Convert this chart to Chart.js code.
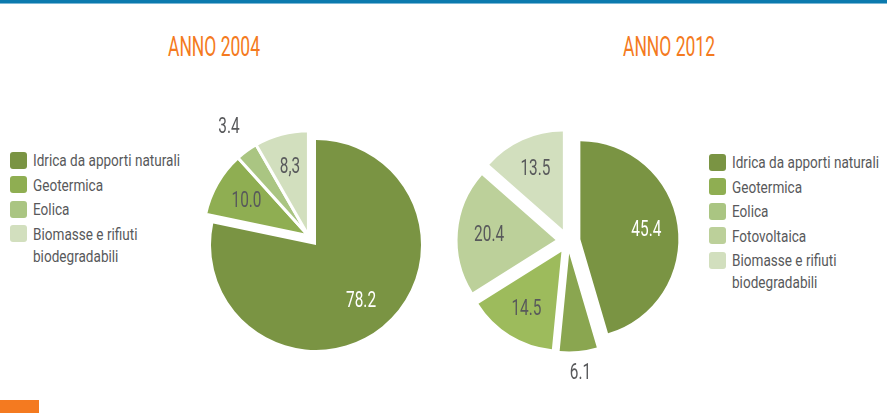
<!DOCTYPE html>
<html>
<head>
<meta charset="utf-8">
<script src="https://cdn.jsdelivr.net/npm/chart.js@4.4.1/dist/chart.umd.min.js"></script>
<style>
  html, body { margin:0; padding:0; background:#fff; }
  body { width:887px; height:413px; position:relative; overflow:hidden;
    font-family:Roboto,"DejaVu Sans Condensed",sans-serif; color:#58595b; }
  .topbar { position:absolute; left:0; top:0; width:887px; height:3px; background:#0b7aae; border-bottom:1px solid #7cb8d6; }
  .corner { position:absolute; left:0; top:400px; width:39px; height:13px; background:#f47a20; }
  .title { position:absolute; top:34px; width:200px; text-align:center; font-size:27px; line-height:26px;
    color:#f47a20; transform-origin:center; white-space:nowrap; }
  .legend { position:absolute; }
  .legend .item { display:flex; align-items:flex-start; margin-bottom:2.5px; }
  .legend .sw { width:17px; height:17px; border-radius:3px; margin-top:2.5px; margin-right:6px; flex:none; }
  .legend .tx { font-size:17px; line-height:22px; transform-origin:left top; }
  canvas { position:absolute; }
</style>
</head>
<body>
<div class="topbar"></div>
<div class="corner"></div>
<div class="title" id="t2004" style="left:114px;"></div>
<div class="title" id="t2012" style="left:569px;"></div>
<div class="legend" id="leg2004" style="left:10px; top:149px;"></div>
<div class="legend" id="leg2012" style="left:709px; top:151px;"></div>
<canvas id="pie2004" width="280" height="280" style="left:176px; top:105px;"></canvas>
<canvas id="pie2012" width="280" height="280" style="left:428px; top:101px;"></canvas>
<script>
// dati
const title2004 = 'ANNO 2004';
const title2012 = 'ANNO 2012';
const categories2004 = ['Idrica da apporti naturali','Geotermica','Eolica','Biomasse e rifiuti biodegradabili'];
const values2004 = [78.2, 10.0, 3.4, 8.3];
const valueText2004 = ['78.2','10.0','3.4','8,3'];
const colors2004 = ['#7a9443','#8fae52','#aac582','#d2dfbe'];
const legendColors2004 = ['#7a9443','#8fae52','#aac582','#d2dfbe'];

const categories2012 = ['Idrica da apporti naturali','Geotermica','Eolica','Fotovoltaica','Biomasse e rifiuti biodegradabili'];
const values2012 = [45.4, 6.1, 14.5, 20.4, 13.5];
const valueText2012 = ['45.4','6.1','14.5','20.4','13.5'];
const colors2012 = ['#7a9443','#8aa650','#9dbb5c','#bcd09a','#d2dfbe'];
const legendColors2012 = ['#7a9443','#8fae52','#aac582','#bcd09a','#d2dfbe'];

const FONT = 'Roboto,"DejaVu Sans Condensed",sans-serif';

// il carattere originale è un DIN condensato: stringo in orizzontale
const mctx = document.createElement('canvas').getContext('2d');
function textWidth(t, font){ mctx.font = font; return mctx.measureText(t).width; }
const titleScale = 92 / textWidth('ANNO 2004', '27px ' + FONT);
const legendScale = 147 / textWidth('Idrica da apporti naturali', '17px ' + FONT);
const labelScale = 30 / textWidth('78.2', '22px ' + FONT);

['t2004','t2012'].forEach((id,i)=>{
  const el = document.getElementById(id);
  el.textContent = i ? title2012 : title2004;
  el.style.transform = `scaleX(${titleScale})`;
});

function buildLegend(id, names, colors){
  document.getElementById(id).innerHTML = names.map((n,i)=>
    `<div class="item"><span class="sw" style="background:${colors[i]}"></span>` +
    `<span class="tx" style="width:${152/legendScale}px; transform:scaleX(${legendScale})">${n}</span></div>`).join('');
}
buildLegend('leg2004', categories2004, legendColors2004);
buildLegend('leg2012', categories2012, legendColors2012);

// spicchi esplosi: spostamento lungo la bisettrice (o del gruppo) senza allargare il raggio
const explode = {
  id:'explode',
  beforeDatasetsDraw(chart, args, opts){
    const arcs = chart.getDatasetMeta(0).data;
    const group = opts.group || [];
    let gMid = null;
    if(group.length){
      const s = Math.min(...group.map(i=>arcs[i].startAngle));
      const e = Math.max(...group.map(i=>arcs[i].endAngle));
      gMid = (s+e)/2;
    }
    arcs.forEach((arc,i)=>{
      const dist = (opts.distance||[])[i] || 0;
      const ang = group.includes(i) ? gMid : (arc.startAngle+arc.endAngle)/2;
      arc.shiftX = Math.cos(ang)*dist;
      arc.shiftY = Math.sin(ang)*dist;
      arc.draw = function(ctx){
        ctx.save();
        ctx.translate(this.shiftX, this.shiftY);
        Chart.ArcElement.prototype.draw.call(this, ctx);
        ctx.restore();
      };
    });
  },
  afterDatasetsDraw(chart, args, opts){
    const {ctx} = chart;
    const arcs = chart.getDatasetMeta(0).data;
    const vals = chart.data.datasets[0].data;
    arcs.forEach((arc,i)=>{
      const mid = (arc.startAngle+arc.endAngle)/2;
      const inside = vals[i] >= 7;
      const d = inside ? arc.outerRadius*0.68 : arc.outerRadius + opts.outside;
      const x = arc.x + (arc.shiftX||0) + Math.cos(mid)*d;
      const y = arc.y + (arc.shiftY||0) + Math.sin(mid)*d;
      ctx.save();
      ctx.translate(x, y);
      ctx.scale(labelScale, 1);
      ctx.font = '22px ' + FONT;
      ctx.textAlign = 'center';
      ctx.textBaseline = 'middle';
      ctx.fillStyle = i===0 ? '#ffffff' : '#58595b';
      ctx.fillText(opts.texts[i], 0, 1);
      ctx.restore();
    });
  }
};

function makePie(id, labels, values, colors, borders, radius, plug){
  return new Chart(document.getElementById(id), {
    type:'pie',
    data:{ labels, datasets:[{ data:values, backgroundColor:colors, borderColor:'#ffffff', borderWidth:borders }] },
    options:{
      responsive:false, animation:false, events:[],
      radius, layout:{padding:0},
      plugins:{ legend:{display:false}, tooltip:{enabled:false}, explode:plug }
    },
    plugins:[explode]
  });
}

makePie('pie2004', categories2004, values2004, colors2004, [0,3,3,3], 105,
  { distance:[0,12,12,12], group:[1,2,3], outside:30, texts:valueText2004 });
makePie('pie2012', categories2012, values2012, colors2012, 0, 98,
  { distance:[12.5,12.5,12.5,12.5,12.5], group:[], outside:22, texts:valueText2012 });
</script>
</body>
</html>
